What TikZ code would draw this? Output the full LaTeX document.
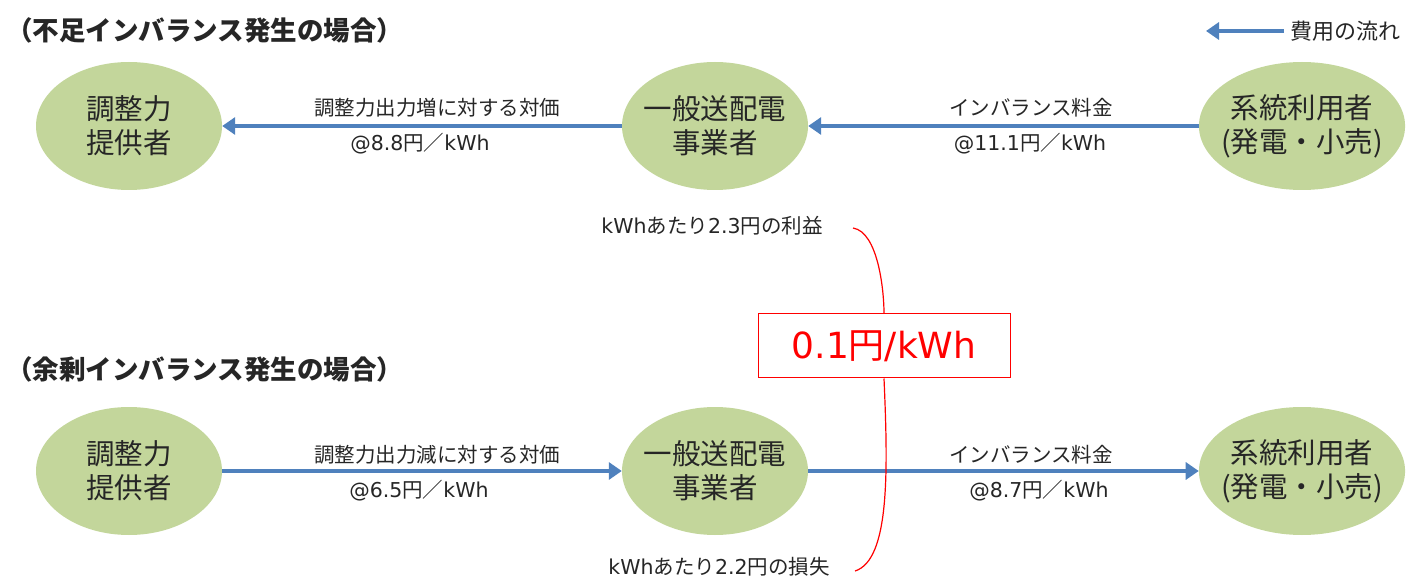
\documentclass[tikz,border=0pt]{standalone}
\usepackage{fontspec}
\setmainfont{Noto Sans CJK JP}
\newfontfamily\dv[Scale=1.0]{DejaVu Sans}
\usetikzlibrary{shapes.geometric,arrows.meta}
\definecolor{egreen}{HTML}{C3D69B}
\definecolor{ablue}{HTML}{4F81BD}
\definecolor{tgray}{HTML}{262626}
\begin{document}
\begin{tikzpicture}[x=1pt,y=-1pt,
  party/.style={ellipse,fill=egreen,minimum width=186pt,minimum height=128pt,inner xsep=-8pt,inner ysep=0pt,align=center,font=\fontsize{28.5}{34}\selectfont,text=tgray},
  flow/.style={draw=ablue,line width=4.5pt,-{Triangle[length=13pt,width=17pt]}},
  lbl/.style={font=\fontsize{20.5}{24}\selectfont,text=tgray,inner sep=0pt},
  ttl/.style={font=\bfseries\fontsize{26.5}{30}\selectfont,text=tgray,inner sep=0pt,anchor=west}]
\useasboundingbox (0,0) rectangle (1425,585);
% titles
\node[ttl] (t1) at (6,30) {（不足インバランス発生の場合）};
\node[ttl] (t2) at (6,369) {（余剰インバランス発生の場合）};
% legend
\node[lbl,anchor=west,font=\fontsize{22}{26}\selectfont] (leg) at (1290,31) {費用の流れ};
\coordinate (legS) at (1284,31);
\coordinate (legE) at (1206,31);
\draw[flow] (legS) -- (legE);
% top row
\node[party] (a1) at (129,126) {調整力\\提供者};
\node[party] (b1) at (715,126) {一般送配電\\事業者};
\node[party] (c1) at (1302,126) {系統利用者\\(発電・小売)};
\draw[flow] (b1) -- (a1);
\draw[flow] (c1) -- (b1);
\node[lbl] (l1a) at (437,108) {調整力出力増に対する対価};
\node[lbl] (l1b) at (420,144) {{\dv @8.8}円／{\dv kWh}};
\node[lbl] (l2a) at (1031,108) {インバランス料金};
\node[lbl] (l2b) at (1030,144) {{\dv @11.1}円／{\dv kWh}};
\node[lbl] (p1) at (712,226) {{\dv kWh}あたり{\dv 2.3}円の利益};
% bottom row
\node[party] (a2) at (129,471) {調整力\\提供者};
\node[party] (b2) at (715,471) {一般送配電\\事業者};
\node[party] (c2) at (1302,471) {系統利用者\\(発電・小売)};
\draw[flow] (a2) -- (b2);
\draw[flow] (b2) -- (c2);
\node[lbl] (l3a) at (437,455) {調整力出力減に対する対価};
\node[lbl] (l3b) at (419,491) {{\dv @6.5}円／{\dv kWh}};
\node[lbl] (l4a) at (1031,455) {インバランス料金};
\node[lbl] (l4b) at (1039,491) {{\dv @8.7}円／{\dv kWh}};
\node[lbl] (p2) at (719,567) {{\dv kWh}あたり{\dv 2.2}円の損失};
% red box
\node[draw=red,line width=1pt,text=red,minimum width=252pt,minimum height=64pt,font=\fontsize{36}{44}\selectfont,inner sep=0pt] (box) at (884,346) {{\dv 0.1}円{\dv /kWh}};
\coordinate (r1) at (853,228);
\coordinate (r2) at (855,571);
\draw[red,line width=1.2pt] (r1) .. controls (878,232) and (884,290) .. (box.north);
\draw[red,line width=1.2pt] (box.south) .. controls (888,470) and (890,560) .. (r2);
\end{tikzpicture}
\end{document}
